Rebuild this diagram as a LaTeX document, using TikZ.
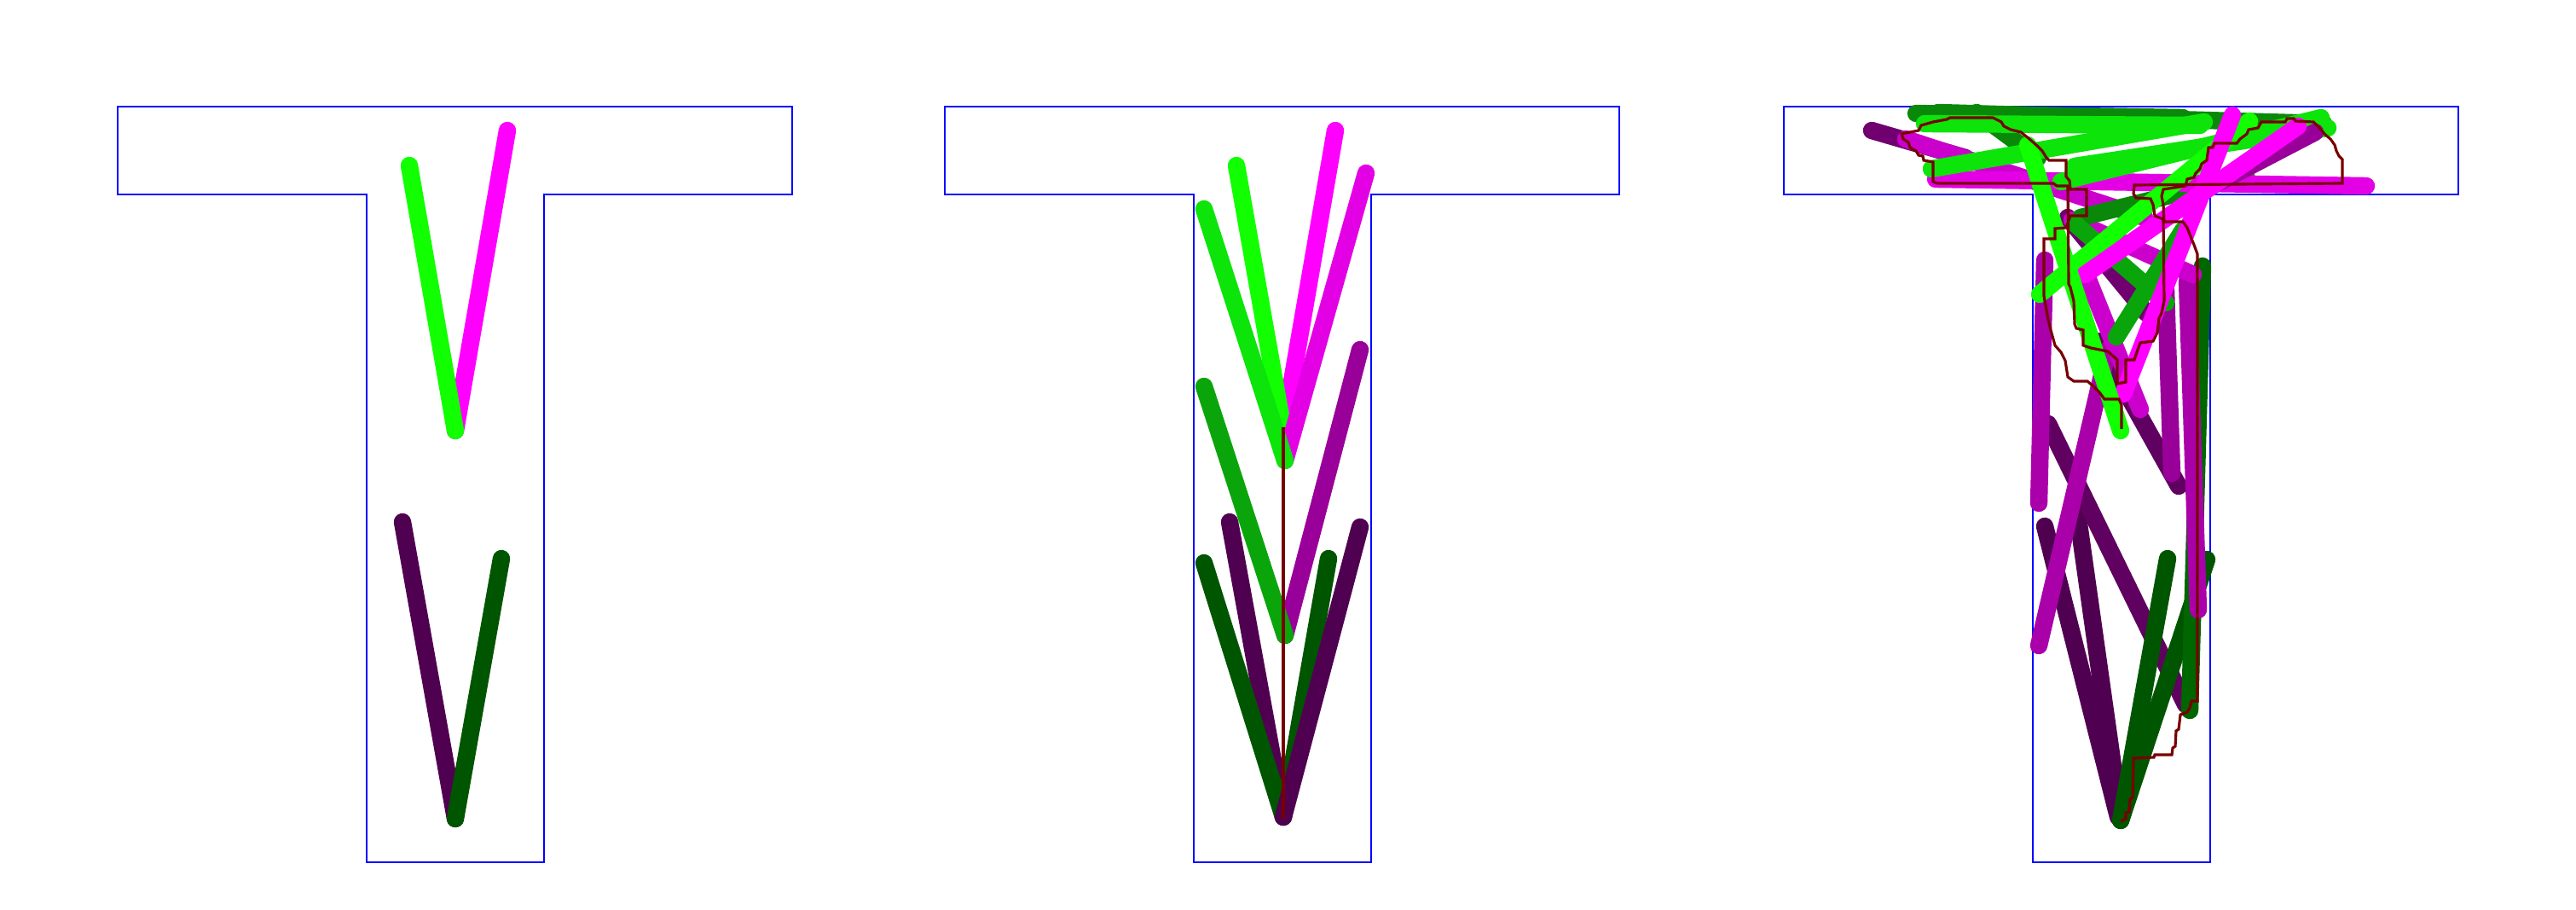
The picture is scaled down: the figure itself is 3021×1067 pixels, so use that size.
\documentclass[tikz,border=0pt]{standalone}
\usepackage{tikz}
\definecolor{grnA}{RGB}{17,255,0}
\definecolor{grnB}{RGB}{12,228,10}
\definecolor{grnC}{RGB}{10,165,10}
\definecolor{grnD}{RGB}{10,136,10}
\definecolor{grnE}{RGB}{0,102,0}
\definecolor{grnF}{RGB}{0,85,0}
\definecolor{magA}{RGB}{255,0,255}
\definecolor{magB}{RGB}{228,0,228}
\definecolor{magC}{RGB}{204,0,204}
\definecolor{magD}{RGB}{170,0,170}
\definecolor{magE}{RGB}{153,0,153}
\definecolor{magF}{RGB}{112,0,112}
\definecolor{magG}{RGB}{96,0,96}
\definecolor{magH}{RGB}{80,0,80}
\definecolor{maroon}{RGB}{120,0,0}
\begin{document}
\begin{tikzpicture}[
    x=0.01cm, y=-0.01cm,
    outline/.style={draw=blue, line width=0.6pt},
    stk/.style={line width=5.8pt, line cap=round},
    trace/.style={draw=maroon, line width=0.9pt}
  ]
  \useasboundingbox (0,0) rectangle (3021,1067);
  % T-shaped domains
  \foreach \dx in {0,970,1954}
    \draw[outline, shift={(\dx,0)}] (138,125) -- (929,125) -- (929,228) -- (638,228)
      -- (638,1011) -- (430,1011) -- (430,228) -- (138,228) -- cycle;

  % left: two V's
  \draw[stk, magA] (595,153) -- (534,505);
  \draw[stk, grnA] (480,194) -- (534,505);
  \draw[stk, magH] (472,612) -- (534,960);
  \draw[stk, grnF] (588,655) -- (534,960);

  % middle: stacked V's on a stem
  \coordinate (v1) at (1505,505);
  \coordinate (v2) at (1507,540);
  \coordinate (v3) at (1507,745);
  \coordinate (v4) at (1505,958);
  \draw[stk, magA] (1566,153) -- (v1);
  \draw[stk, grnA] (1450,194) -- (v1);
  \draw[stk, magB] (1602,203) -- (v2);
  \draw[stk, grnB] (1412,245) -- (v2);
  \draw[stk, magE] (1595,410) -- (v3);
  \draw[stk, grnC] (1412,453) -- (v3);
  \draw[stk, magH] (1442,612) -- (v4);
  \draw[stk, grnF] (1412,660) -- (v4);
  \draw[stk, grnF] (1558,655) -- (v4);
  \draw[stk, magH] (1595,618) -- (v4);
  \draw[trace] (1505,501) -- (1505,960);

  % right: tangled segments
  \draw[stk, magH] (2398,617) -- (2484,958);
  \draw[stk, magH] (2436,600) -- (2486,955);
  \draw[stk, magG] (2402,497) -- (2563,826);
  \draw[stk, magG] (2460,400) -- (2555,570);
  \draw[stk, magF] (2425,255) -- (2517,367);
  \draw[stk, magF] (2195,153) -- (2305,185);
  \draw[stk, grnF] (2542,655) -- (2487,962);
  \draw[stk, grnF] (2588,656) -- (2487,962);
  \draw[stk, grnE] (2583,312) -- (2568,833);
  \draw[stk, magD] (2398,305) -- (2391,590);
  \draw[stk, magD] (2472,410) -- (2391,757);
  \draw[stk, magE] (2540,340) -- (2547,555);
  \draw[stk, magD] (2565,330) -- (2578,715);
  \draw[stk, magC] (2235,163) -- (2515,255);
  \draw[stk, magC] (2430,258) -- (2572,322);
  \draw[stk, magC] (2447,323) -- (2510,480);
  \draw[stk, grnD] (2247,133) -- (2560,138);
  \draw[stk, grnD] (2273,132) -- (2725,145);
  \draw[stk, grnD] (2318,132) -- (2390,185);
  \draw[stk, grnD] (2440,255) -- (2634,207);
  \draw[stk, grnC] (2560,270) -- (2482,395);
  \draw[stk, grnC] (2433,262) -- (2540,355);
  \draw[stk, magB] (2270,210) -- (2775,218);
  \draw[stk, grnB] (2265,198) -- (2585,143);
  \draw[stk, grnB] (2257,145) -- (2580,147);
  \draw[stk, grnB] (2417,213) -- (2722,138);
  \draw[stk, grnB] (2433,195) -- (2730,150);
  \draw[stk, grnA] (2392,345) -- (2638,142);
  \draw[stk, magE] (2715,155) -- (2600,215);
  \draw[stk, magA] (2445,322) -- (2695,148);
  \draw[stk, magA] (2618,135) -- (2490,462);
  \draw[stk, grnA] (2378,170) -- (2487,505);

  % level-set outline
  \draw[trace] (2488,503) -- (2488,475) -- (2485,468) -- (2468,468) -- (2462,460)
    -- (2455,453) -- (2448,447) -- (2432,447) -- (2425,442) -- (2422,423) -- (2417,413)
    -- (2410,405) -- (2405,387) -- (2402,375) -- (2397,347) -- (2397,280) -- (2410,280)
    -- (2410,268) -- (2423,267) -- (2428,253) -- (2447,253) -- (2447,222) -- (2428,222)
    -- (2427,212) -- (2423,207) -- (2423,188) -- (2403,188) -- (2400,185) -- (2395,177)
    -- (2388,170) -- (2380,163) -- (2370,155) -- (2358,152) -- (2350,148) -- (2347,143)
    -- (2337,138) -- (2287,138) -- (2283,140) -- (2267,143) -- (2253,147) -- (2250,153)
    -- (2230,157) -- (2232,163) -- (2238,167) -- (2240,173) -- (2247,177) -- (2250,182)
    -- (2255,183) -- (2256,188) -- (2267,190) -- (2267,213) -- (2272,215) -- (2408,215)
    -- (2412,218) -- (2425,218) -- (2426,333) -- (2428,337) -- (2432,353) -- (2433,380)
    -- (2435,385) -- (2443,387) -- (2443,405) -- (2452,408) -- (2472,412) -- (2483,422)
    -- (2483,450) -- (2493,448) -- (2493,422) -- (2503,422) -- (2507,410) -- (2510,402)
    -- (2525,400) -- (2530,390) -- (2532,373) -- (2535,367) -- (2538,353) -- (2537,257)
    -- (2527,253) -- (2525,240) -- (2522,233) -- (2505,232) -- (2502,227) -- (2503,217)
    -- (2747,215) -- (2747,187) -- (2743,183) -- (2740,177) -- (2738,170) -- (2733,163)
    -- (2727,158) -- (2720,150) -- (2713,143) -- (2692,142) -- (2690,139) -- (2682,139)
    -- (2680,143) -- (2652,143) -- (2648,150) -- (2637,152) -- (2635,157) -- (2627,163)
    -- (2623,168) -- (2597,168) -- (2595,173) -- (2590,173) -- (2588,188) -- (2582,192)
    -- (2580,198) -- (2575,203) -- (2573,208) -- (2565,210) -- (2563,218) -- (2537,222)
    -- (2535,230) -- (2537,240) -- (2538,260) -- (2560,260) -- (2565,267) -- (2570,280)
    -- (2573,287) -- (2577,298) -- (2577,822) -- (2570,822) -- (2568,830) -- (2565,835)
    -- (2557,838) -- (2555,855) -- (2552,857) -- (2551,875) -- (2548,877) -- (2547,885)
    -- (2527,885) -- (2526,888) -- (2502,889) -- (2501,935) -- (2498,937) -- (2497,952)
    -- (2493,953) -- (2493,960) -- (2487,963);
\end{tikzpicture}
\end{document}
